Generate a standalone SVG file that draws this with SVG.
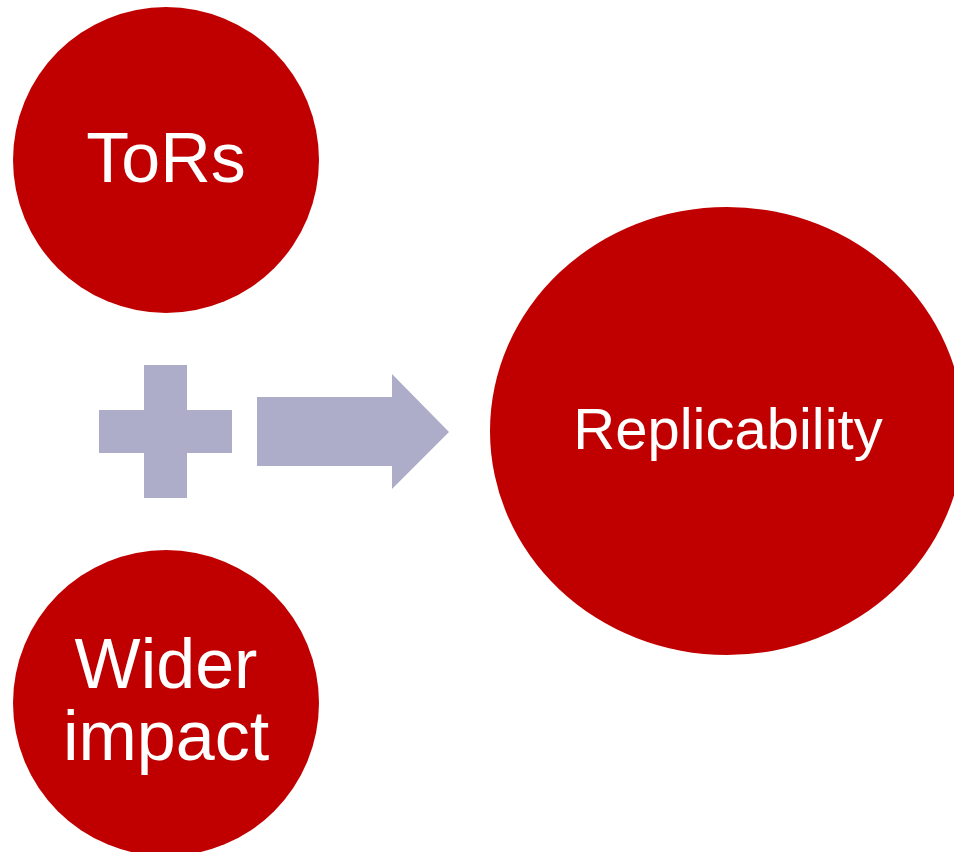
<svg xmlns="http://www.w3.org/2000/svg" width="954" height="852" viewBox="0 0 954 852">
<style>
.node{fill:#C00000}
.lbl{fill:#FFFFFF;font-family:"Liberation Sans",Arial,sans-serif;font-size:70px;text-anchor:middle}
.sym{fill:#ADADC9}
</style>
<rect width="954" height="852" fill="#FFFFFF"/>
<g id="connectors">
<path class="sym" d="M144,365 H187 V410 H232 V453 H187 V498 H144 V453 H99 V410 H144 Z"/>
<path class="sym" d="M257,397 H392 V374 L449,432 L392,489 V466 H257 Z"/>
</g>
<g id="node-tors">
<circle class="node" cx="166" cy="160" r="153"/>
<text class="lbl" x="166" y="182">ToRs</text>
</g>
<g id="node-wider">
<circle class="node" cx="166" cy="703" r="153"/>
<text class="lbl" x="166" y="688">Wider</text>
<text class="lbl" x="166" y="760">impact</text>
</g>
<g id="node-replicability">
<ellipse class="node" cx="727" cy="431" rx="237" ry="224"/>
<text class="lbl" x="728" y="449" style="font-size:58px">Replicability</text>
</g>
</svg>
